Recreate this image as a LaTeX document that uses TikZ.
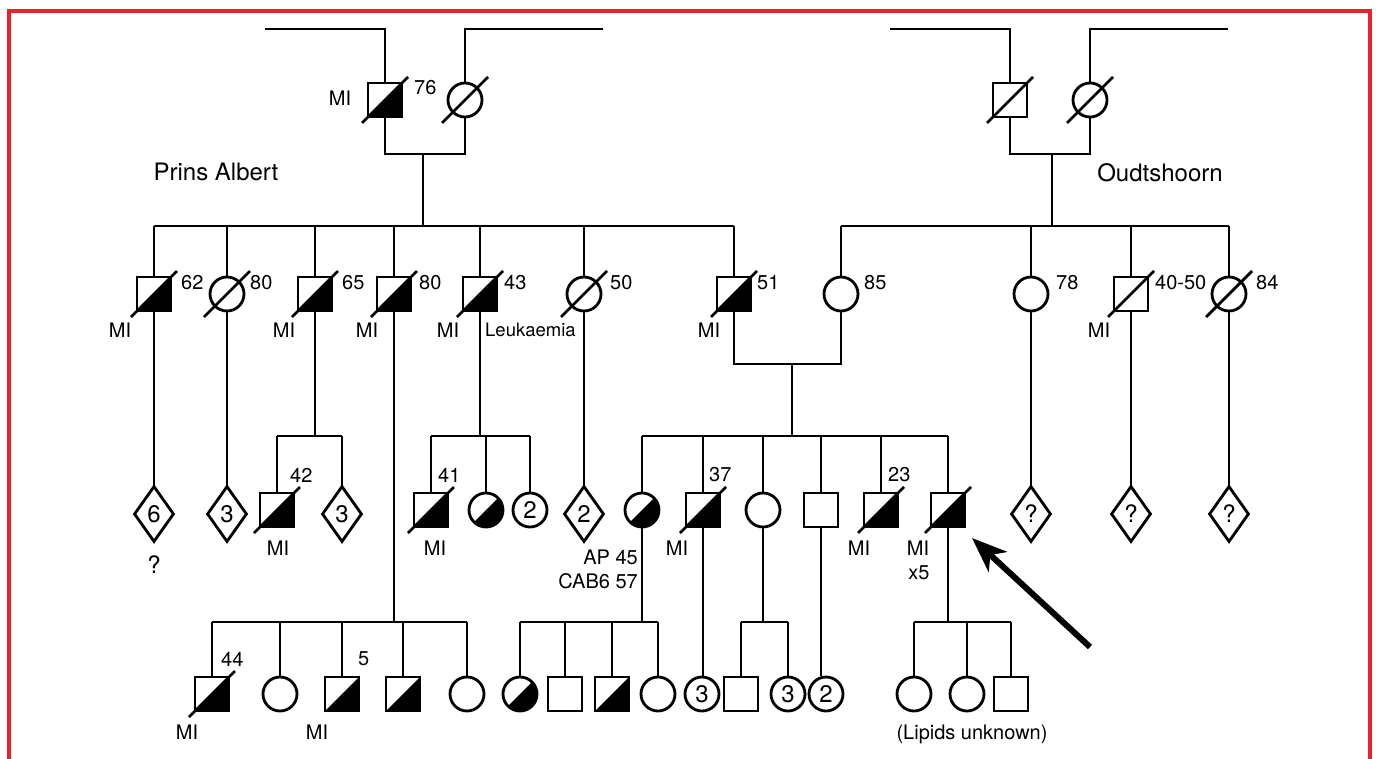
\documentclass[tikz,border=0pt]{standalone}
\usepackage{fontspec}
\setmainfont{TeX Gyre Heros}
\usetikzlibrary{shapes.geometric,arrows.meta}
\definecolor{bred}{RGB}{236,34,42}
\newcommand\lblf{\fontsize{20}{22}\selectfont}
\newcommand\smallf{\fontsize{18.5}{21}\selectfont}
\newcommand\numf{\fontsize{24}{26}\selectfont}
\newcommand\placef{\fontsize{24}{26}\selectfont}
\tikzset{
  conn/.style={line width=2.8pt},
  base/.style={draw, line width=2.8pt, inner sep=0pt, fill=white, font=\numf},
  male/.style={base, rectangle, minimum size=34pt},
  fem/.style={base, circle, minimum size=34pt},
  unk/.style={base, diamond, minimum width=40pt, minimum height=56pt},
  aff/.style={path picture={\fill[black] (path picture bounding box.south west) -- (path picture bounding box.south east) -- (path picture bounding box.north east) -- cycle;}},
  lbl/.style={font=\lblf, inner sep=0pt},
  lw/.style={lbl, anchor=west},
}
\newcommand\dd[1]{\draw[conn] ([shift={(-23,23)}]#1.center) -- ([shift={(23,-23)}]#1.center);}
\begin{document}
\begin{tikzpicture}[x=1pt,y=-1pt]
\useasboundingbox (0,0) rectangle (1376,758);
% frame
\draw[bred, line width=3.5pt] (9,760) -- (9,11) -- (1370,11) -- (1370,760);

% ---------- generation 1 ----------
\node[male, aff] (P1) at (385,100) {};
\node[fem] (P2) at (465,100) {};
\node[male] (Q1) at (1010,100) {};
\node[fem] (Q2) at (1090,100) {};
\coordinate (t1) at (265,29); \coordinate (t2) at (603,29);
\coordinate (t3) at (890,29); \coordinate (t4) at (1228,29);
\draw[conn] (t1) -| (P1.north);
\draw[conn] (t2) -| (P2.north);
\draw[conn] (t3) -| (Q1.north);
\draw[conn] (t4) -| (Q2.north);
\coordinate (m1) at (423,154); \coordinate (m2) at (1052,154);
\draw[conn] (P1.south) |- (m1); \draw[conn] (P2.south) |- (m1);
\draw[conn] (Q1.south) |- (m2); \draw[conn] (Q2.south) |- (m2);
\dd{P1} \dd{P2} \dd{Q1} \dd{Q2}
\node[lbl] (lP1) at (340,98) {MI};
\node[lw] (aP1) at (414,88) {76};
\node[font=\placef, inner sep=0pt] (pa) at (216,172) {Prins Albert};
\node[font=\placef, inner sep=0pt] (ou) at (1160,173) {Oudtshoorn};

% ---------- generation 2 ----------
\coordinate (s1) at (423,226); \coordinate (s2) at (1052,226);
\node[male, aff] (A1) at (154,294) {};
\node[fem] (A2) at (227,294) {};
\node[male, aff] (A3) at (315,294) {};
\node[male, aff] (A4) at (394,294) {};
\node[male, aff] (A5) at (480,294) {};
\node[fem] (A6) at (584,294) {};
\node[male, aff] (A7) at (734,294) {};
\node[fem] (B1) at (841,294) {};
\node[fem] (B2) at (1031,294) {};
\node[male] (B3) at (1131,294) {};
\node[fem] (B4) at (1229,294) {};
\draw[conn] (m1) -- (s1);
\draw[conn] (m2) -- (s2);
\draw[conn] (A1.north |- s1) -- (A7.north |- s1);
\draw[conn] (B1.north |- s2) -- (B4.north |- s2);
\foreach \n in {A1,A2,A3,A4,A5,A6,A7} {\draw[conn] (\n.north) -- (\n.north |- s1);}
\foreach \n in {B1,B2,B3,B4} {\draw[conn] (\n.north) -- (\n.north |- s2);}
\dd{A1} \dd{A2} \dd{A3} \dd{A4} \dd{A5} \dd{A6} \dd{A7} \dd{B3} \dd{B4}
\node[lw] at (181,283) {62};
\node[lw] at (250,283) {80};
\node[lw] at (342,283) {65};
\node[lw] at (419,283) {80};
\node[lw] at (504,283) {43};
\node[lw] at (610,283) {50};
\node[lw] at (757,283) {51};
\node[lw] at (864,283) {85};
\node[lw] at (1056,283) {78};
\node[lw] at (1155,283) {40-50};
\node[lw] at (1256,283) {84};
\node[lbl] at (120,330) {MI};
\node[lbl] at (284,330) {MI};
\node[lbl] at (367,330) {MI};
\node[lbl] at (448,330) {MI};
\node[lw, font=\smallf] at (485,330) {Leukaemia};
\node[lbl] at (709,330) {MI};
\node[lbl] at (1099,330) {MI};
\coordinate (m3) at (792,364);
\draw[conn] (A7.south) |- (m3); \draw[conn] (B1.south) |- (m3);

% ---------- generation 3 ----------
\coordinate (s3) at (315,436); \coordinate (s4) at (480,436); \coordinate (s5) at (792,436);
\node[unk] (C1) at (154,514) {6};
\node[unk] (C2) at (227,514) {3};
\node[male, aff] (C3) at (277,510) {};
\node[unk] (C4) at (342,514) {3};
\node[male, aff] (C5) at (431,510) {};
\node[fem, aff] (C6) at (486,510) {};
\node[fem] (C7) at (530,510) {2};
\node[unk] (C8) at (584,514) {2};
\node[fem, aff] (D1) at (642,510) {};
\node[male, aff] (D2) at (703,510) {};
\node[fem] (D3) at (763,510) {};
\node[male] (D4) at (821,510) {};
\node[male, aff] (D5) at (881,510) {};
\node[male, aff] (D6) at (948,510) {};
\node[unk] (E1) at (1031,514) {?};
\node[unk] (E2) at (1131,514) {?};
\node[unk] (E3) at (1229,514) {?};
\draw[conn] (A1.south) -- (C1.north);
\draw[conn] (A2.south) -- (C2.north);
\draw[conn] (A6.south) -- (C8.north);
\draw[conn] (B2.south) -- (E1.north);
\draw[conn] (B3.south) -- (E2.north);
\draw[conn] (B4.south) -- (E3.north);
\draw[conn] (A3.south) -- (s3);
\draw[conn] (C3.north |- s3) -- (C4.north |- s3);
\foreach \n in {C3,C4} {\draw[conn] (\n.north) -- (\n.north |- s3);}
\draw[conn] (A5.south) -- (s4);
\draw[conn] (C5.north |- s4) -- (C7.north |- s4);
\foreach \n in {C5,C6,C7} {\draw[conn] (\n.north) -- (\n.north |- s4);}
\draw[conn] (m3) -- (s5);
\draw[conn] (D1.north |- s5) -- (D6.north |- s5);
\foreach \n in {D1,D2,D3,D4,D5,D6} {\draw[conn] (\n.north) -- (\n.north |- s5);}
\dd{C3} \dd{C5} \dd{D2} \dd{D5} \dd{D6}
\node[font=\numf, inner sep=0pt] at (154,565) {?};
\node[lw] at (290,475) {42};
\node[lbl] at (278,548) {MI};
\node[lw] at (438,475) {41};
\node[lbl] at (435,548) {MI};
\node[lbl, anchor=east] at (638,557) {AP 45};
\node[lbl, anchor=east] at (638,581) {CAB6 57};
\node[lw] at (709,475) {37};
\node[lbl] at (677,548) {MI};
\node[lw] at (888,475) {23};
\node[lbl] at (859,548) {MI};
\node[lbl] at (918,548) {MI};
\node[lbl] at (919,573) {x5};

% ---------- generation 4 ----------
\coordinate (s6) at (394,622); \coordinate (s7) at (642,622);
\coordinate (s8) at (763,622); \coordinate (s9) at (948,622);
\node[male, aff] (F1) at (212,694) {};
\node[fem] (F2) at (280,694) {};
\node[male, aff] (F3) at (342,694) {};
\node[male, aff] (F4) at (403,694) {};
\node[fem] (F5) at (467,694) {};
\node[fem, aff] (G1) at (520,694) {};
\node[male] (G2) at (565,694) {};
\node[male, aff] (G3) at (612,694) {};
\node[fem] (G4) at (658,694) {};
\node[fem] (G5) at (702,694) {3};
\node[male] (G6) at (741,694) {};
\node[fem] (G7) at (788,694) {3};
\node[fem] (G8) at (826,694) {2};
\node[fem] (H1) at (914,694) {};
\node[fem] (H2) at (967,694) {};
\node[male] (H3) at (1011,694) {};
\draw[conn] (A4.south) -- (s6);
\draw[conn] (F1.north |- s6) -- (F5.north |- s6);
\foreach \n in {F1,F2,F3,F4,F5} {\draw[conn] (\n.north) -- (\n.north |- s6);}
\draw[conn] (D1.south) -- (s7);
\draw[conn] (G1.north |- s7) -- (G4.north |- s7);
\foreach \n in {G1,G2,G3,G4} {\draw[conn] (\n.north) -- (\n.north |- s7);}
\draw[conn] (D2.south) -- (D2.south |- G5.north);
\draw[conn] (D3.south) -- (s8);
\draw[conn] (G6.north |- s8) -- (G7.north |- s8);
\foreach \n in {G6,G7} {\draw[conn] (\n.north) -- (\n.north |- s8);}
\draw[conn] (D4.south) -- (D4.south |- G8.north);
\draw[conn] (D6.south) -- (s9);
\draw[conn] (H1.north |- s9) -- (H3.north |- s9);
\foreach \n in {H1,H2,H3} {\draw[conn] (\n.north) -- (\n.north |- s9);}
\dd{F1}
\node[lw] at (221,659) {44};
\node[lbl] at (187,732) {MI};
\node[lw] at (358,659) {5};
\node[lbl] at (317,732) {MI};
\node[lbl] at (972,734) {(Lipids unknown)};

% proband arrow
\coordinate (arS) at (1090,647);
\coordinate (arT) at (972,538);
\draw[line width=6pt, -{Stealth[length=35pt,width=27pt,inset=10pt]}] (arS) -- (arT);
\end{tikzpicture}
\end{document}
